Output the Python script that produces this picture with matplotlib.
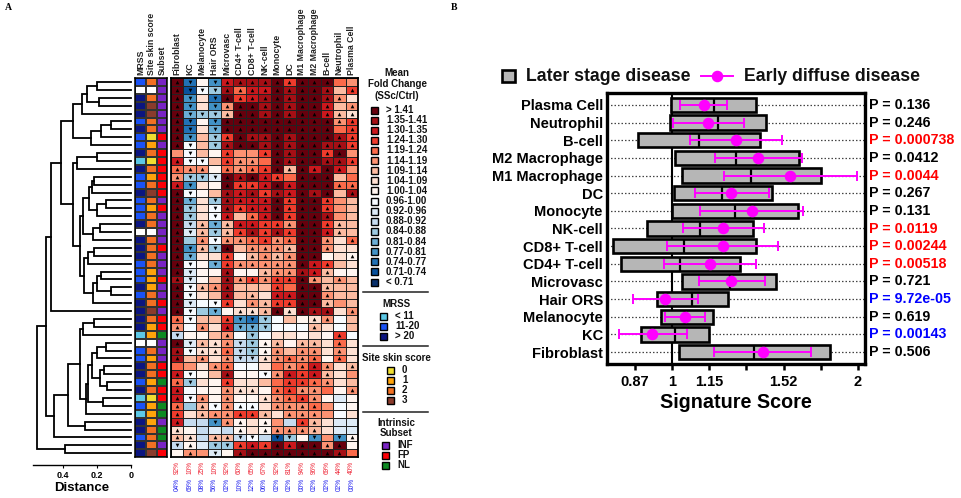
import matplotlib
matplotlib.use('Agg')
import matplotlib.pyplot as plt
from matplotlib.colors import ListedColormap
from matplotlib.patches import Rectangle
from matplotlib.lines import Line2D
import numpy as np

plt.rcParams['font.family'] = ['Liberation Sans', 'DejaVu Sans']

W, H = 961, 498

# panel A
cell_types = ['Fibroblast', 'KC', 'Melanocyte', 'Hair ORS', 'Microvasc', 'CD4+ T-cell', 'CD8+ T-cell',
              'NK-cell', 'Monocyte', 'DC', 'M1 Macrophage', 'M2 Macrophage', 'B-cell', 'Neutrophil', 'Plasma Cell']
fold_labels = ['> 1.41', '1.35-1.41', '1.30-1.35', '1.24-1.30', '1.19-1.24', '1.14-1.19', '1.09-1.14', '1.04-1.09',
               '1.00-1.04', '0.96-1.00', '0.92-0.96', '0.88-0.92', '0.84-0.88', '0.81-0.84', '0.77-0.81',
               '0.74-0.77', '0.71-0.74', '< 0.71']
fold_colors = ['#67000d', '#a50f15', '#cb181d', '#ef3b2c', '#fb6a4a', '#fc9272', '#fcbba1', '#fee0d2', '#fff5f0',
               '#f7fbff', '#deebf7', '#c6dbef', '#9ecae1', '#6baed6', '#4292c6', '#2171b5', '#08519c', '#08306b']

# one char per column, base 36 index into fold_labels
fold_rows = [
    '0f8e21110300045', '0g9c14220100163', '0e7f03210100157', '0e7e50010100265', '0dcc60010100267',
    '0f8e00000000053', '0f7d00000000043', '0e6c30110100013', '096c10010100113', '596835530100305',
    '299635540100113', '455845430602025', '5cca01023400064', '2e7803320200044', '098612131201061',
    '0d7c12220300356', '0c7913220300356', '0c7926420300156', '0b6d62233500366', '0a6c63131300266',
    '0c5955435400574', '0e6c06555600577', '0d7738656500878', '098d35555502367', '0a8818865512688',
    '1a8615353305656', '096516663400666', '097616672200566', '0a9937563300656', '09cd87760701175',
    '49663efc9687596', '59572ddc9996796', 'b88659c97787839', '0a675bc86866747', '19774bc85655757',
    '16575bb75454847', '457549974542576', '298618895232675', '4c7837764334576', '298857784355485',
    '2958588754358a8', '4c6959975554598', '376553367555597', '2bbe58785b367aa', '78bab87855567aa',
    '67b66b9bgc8e5e8', 'b8acc3230200508', '855a81000000014']
mark_rows = [
    '^v.v^^^^^^^^^..', '^vvv^^^^^^^^^.^', '^v.v^^^^^^^^^^.', '^v.v^^^^^^^^^.^', '^vvv^^^^^^^^^^^',
    '^v.v^^^^^^^^^^^', '^v.v^^^^^^^^^.^', '^v.v^^^^^^^^^^^', '^v.v^^^^^^^^^^^', '.v..^..^^^^^^^.',
    '^vv.^^^.^^^^^^^', '^^^.^^^^^^^^^^.', '^vvv^^^^^.^^^..', '^v..^^^^^^^^^^^', '^v..^^^^^^^^^.^',
    '^v.v^^^^^^^^^..', '^v.v^^^^^^^^^..', '^v.v^.^^^^^^^..', '^v^v^^^^^^^^^^.', '^v^v^^^^^^^^^^.',
    '^.^v^^^^^^^^^.^', '^v^v^.^^^^^^^..', '^v..^.^^^^^^..^', '^v.v^^^^^^^^^..', '^v..^..^^^^^^..',
    '^v..^^^^^^^^.^.', '^v^^^...^.^^^..', '^v..^.^.^^^^^..', '^v.v^.^^^^^^^..', '^v.v.^^^^^^^^.^',
    '^v..^vvv...^^..', '^.^.^vvv...^...', 'v...^.v......^.', '^v^^^vv^^.^^.^.', '^v^^^vv^^.^^.^.',
    '^.^.^vv^^^^^.^.', '...^^....^^^^.^', '^v..^..v^^^^^..', '^v..^....^^^^..', '^...^^^.^^^^..^',
    '^v^.^..^^^^^...', '^.^v^^^.^^^^...', '^.^^^^^^.^^^...', '^..v^^.^..^^...', '^....^.^^^^^...',
    '^^.^^vv.vv.v.v^', 'v^.vv^^^^^^^^^.', '.^.v.^^^^^^^^^.']

mrss_names = ['< 11', '11-20', '> 20']
mrss_colors = ['#5cc8e6', '#1a52f5', '#0b1580']
site_names = ['0', '1', '2', '3']
site_colors = ['#f0de30', '#ffa30a', '#f27022', '#8a3b2c']
subset_names = ['INF', 'FP', 'NL']
subset_colors = ['#7a24c4', '#fb0007', '#0d8a22']
# w = not scored
mrss_col = ['b','w','n','n','n','b','n','b','b','n','c','n','b','b','n','b','b','b','n','w','n','n','n','b',
            'b','b','n','b','n','n','n','n','c','w','b','b','n','n','b','n','c','b','c','n','n','b','n','n']
site_col = ['2','w','2','3','3','2','2','0','1','2','0','2','1','2','3','2','1','2','2','w','2','2','2','2',
            '1','1','1','2','2','3','2','1','1','w','2','1','2','2','1','2','0','1','1','1','2','2','2','3']
subset_col = ['I','I','I','I','I','I','I','F','I','F','F','F','F','F','F','I','F','I','I','I','I','F','I','I',
              'I','F','I','I','F','I','F','F','N','I','I','I','F','F','N','F','F','N','N','I','N','N','I','F']

red_pct = ['92%', '10%', '25%', '10%', '92%', '60%', '65%', '67%', '92%', '81%', '94%', '96%', '69%', '44%', '40%']
blue_pct = ['04%', '69%', '08%', '56%', '02%', '10%', '12%', '06%', '02%', '02%', '00%', '02%', '02%', '02%', '00%']

# dendrogram: (distance, child, child), ints are row numbers
dendro = (0.55,
  (0.50,
    (0.47,
      (0.41,
        (0.34,
          (0.29, (0.26, (0.20, 0, 1), (0.19, 2, 3)), 4),
          (0.235, (0.175, (0.115, 5, 6), 7), 8)),
        (0.34,
          (0.32, (0.20, 9, 10), 11),
          (0.30,
            (0.28,
              (0.245, (0.23, (0.215, 12, 13), 14), (0.20, (0.145, 15, 16), 17)),
              (0.225, (0.18, 18, 19), 20)),
            (0.275,
              (0.25, (0.22, 21, 22), 23),
              (0.225, (0.20, (0.178, 24, 25), (0.115, 26, 27)), 28))))),
      29),
    (0.45,
      (0.37,
        (0.30,
          (0.28, (0.215, 30, 31), 32),
          (0.265,
            (0.255,
              (0.23, (0.20, (0.145, 33, 34), 35), (0.185, (0.16, 36, 37), (0.14, 38, 39))),
              (0.165, 40, 41)),
            42)),
        (0.27, 43, 44)),
      45)),
  (0.39, 46, 47))

# panel B, log2 of signature score
sig_names = ['Plasma Cell', 'Neutrophil', 'B-cell', 'M2 Macrophage', 'M1 Macrophage', 'DC', 'Monocyte', 'NK-cell',
             'CD8+ T-cell', 'CD4+ T-cell', 'Microvasc', 'Hair ORS', 'Melanocyte', 'KC', 'Fibroblast']
box_lo = [-0.004, -0.009, -0.183, 0.016, 0.052, 0.009, 0.002, -0.134, -0.319, -0.274, 0.052, -0.079, -0.059, -0.168, 0.038]
box_hi = [0.452, 0.504, 0.471, 0.683, 0.801, 0.536, 0.677, 0.435, 0.450, 0.364, 0.559, 0.299, 0.222, 0.199, 0.849]
box_med = [0.225, 0.247, 0.145, 0.346, 0.425, 0.269, 0.341, 0.151, 0.063, 0.045, 0.31, 0.109, 0.07, 0.014, 0.443]
early_pt = [0.170, 0.194, 0.344, 0.462, 0.634, 0.319, 0.430, 0.276, 0.274, 0.203, 0.319, -0.036, 0.070, -0.106, 0.487]
early_lo = [0.041, 0.004, 0.095, 0.231, 0.278, 0.124, 0.152, 0.061, -0.025, -0.043, 0.145, -0.210, -0.036, -0.287, 0.226]
early_hi = [0.297, 0.389, 0.591, 0.699, 0.995, 0.522, 0.704, 0.493, 0.572, 0.450, 0.498, 0.142, 0.176, 0.082, 0.747]
p_text = ['0.136', '0.246', '0.000738', '0.0412', '0.0044', '0.267', '0.131', '0.0119', '0.00244', '0.00518', '0.721',
          '9.72e-05', '0.619', '0.00143', '0.506']
p_color = ['k', 'k', 'r', 'k', 'r', 'k', 'k', 'r', 'r', 'r', 'k', 'b', 'k', 'b', 'k']
x_ticks = [-0.2, 0, 0.2, 0.4, 0.6, 0.8, 1.0]
x_labels = ['0.87', '1', '1.15', '', '1.52', '', '2']

fig = plt.figure(figsize=(W / 100, H / 100), dpi=100)


def px_axes(x0, y0, x1, y1, **kw):
    return fig.add_axes([x0 / W, 1 - y1 / H, (x1 - x0) / W, (y1 - y0) / H], **kw)


n_rows = len(fold_rows)
n_cols = len(cell_types)
row_h = 7.9
top = 78
bottom = top + n_rows * row_h

# heatmap
ax = px_axes(171, top, 358, bottom)
levels = np.array([[int(c, 36) for c in r] for r in fold_rows])
ax.pcolormesh(levels, cmap=ListedColormap(fold_colors), vmin=-0.5, vmax=17.5, edgecolors='#222222', linewidth=0.7)
for mk, glyph in (('^', '^'), ('v', 'v')):
    pts = [(j + 0.5, i + 0.5) for i, r in enumerate(mark_rows) for j, c in enumerate(r) if c == mk]
    ax.scatter(*zip(*pts), marker=glyph, s=7, color='k', linewidths=0, zorder=3)
ax.set_xlim(0, n_cols)
ax.set_ylim(n_rows, 0)
ax.set_yticks([])
ax.set_xticks(np.arange(n_cols) + 0.5)
ax.set_xticklabels(cell_types, rotation=90, fontsize=6.3, fontweight='bold', color='#222222')
ax.tick_params(axis='x', length=0, top=True, bottom=False, labeltop=True, labelbottom=False, pad=2)
for s in ax.spines.values():
    s.set_linewidth(1.3)

# side bars
ax = px_axes(135, top, 167.5, bottom)
side_colors = ['#ffffff'] + mrss_colors + site_colors + subset_colors
lookup = {'w': 0, 'c': 1, 'b': 2, 'n': 3}
site_lookup = {'w': 0, '0': 4, '1': 5, '2': 6, '3': 7}
subset_lookup = {'I': 8, 'F': 9, 'N': 10}
side = np.array([[lookup[a], site_lookup[b], subset_lookup[c]] for a, b, c in zip(mrss_col, site_col, subset_col)])
ax.pcolormesh(side, cmap=ListedColormap(side_colors), vmin=-0.5, vmax=10.5, edgecolors='#333333', linewidth=0.3)
ax.set_xlim(0, 3)
ax.set_ylim(n_rows, 0)
ax.set_yticks([])
ax.set_xticks([0.5, 1.5, 2.5])
ax.set_xticklabels(['MRSS', 'Site skin score', 'Subset'], rotation=90, fontsize=6.3, fontweight='bold', color='#222222')
ax.tick_params(axis='x', length=0, top=True, bottom=False, labeltop=True, labelbottom=False, pad=2)
for s in ax.spines.values():
    s.set_linewidth(1.1)

# dendrogram
ax = px_axes(33, top, 131, 465)
ax.set_xlim(0.576, 0)
ax.set_ylim((465 - top) / row_h, 0)


def draw_node(node):
    if isinstance(node, int):
        return 0.0, node + 0.5
    d, left, right = node
    d1, y1 = draw_node(left)
    d2, y2 = draw_node(right)
    ax.plot([d1, d, d, d2], [y1, y1, y2, y2], color='k', lw=1.3, solid_joinstyle='miter', clip_on=False)
    return d, (y1 + y2) / 2


root_d, root_y = draw_node(dendro)
for s in ['top', 'left', 'right']:
    ax.spines[s].set_visible(False)
ax.spines['bottom'].set_linewidth(1.0)
ax.set_yticks([])
ax.set_xticks([0.4, 0.2, 0])
ax.set_xticklabels(['0.4', '0.2', '0'], fontsize=6.5, fontweight='bold')
ax.tick_params(axis='x', length=2.5, width=0.8, pad=2)
ax.set_xlabel('Distance', fontsize=9.5, fontweight='bold', labelpad=1)

# panel B
ax = px_axes(607, 93, 865, 364)
y = np.arange(len(sig_names))
ax.set_xlim(-0.349, 1.038)
ax.set_ylim(14.67, -0.67)
ax.hlines(y, -0.349, 1.038, color='#444444', lw=0.9, linestyles=(0, (1.2, 1.6)), zorder=1)
ax.axvline(0, color='k', lw=1.5, zorder=1)
ax.barh(y, np.array(box_hi) - np.array(box_lo), left=box_lo, height=0.82, color='#b6b6b6', edgecolor='k', linewidth=1.9, zorder=2)
ax.vlines(box_med, y - 0.41, y + 0.41, color='k', lw=1.6, zorder=3)
ax.errorbar(early_pt, y, xerr=[np.array(early_pt) - np.array(early_lo), np.array(early_hi) - np.array(early_pt)],
            fmt='o', color='#ff00ff', ms=7.3, elinewidth=1.4, capsize=3.3, capthick=1.4, zorder=4)
ax.set_yticks(y)
ax.set_yticklabels(sig_names, fontsize=10.5, fontweight='bold')
ax.set_xticks(x_ticks)
ax.set_xticklabels(x_labels, fontsize=10.5, fontweight='bold')
ax.tick_params(axis='y', length=0, pad=3)
ax.tick_params(axis='x', length=4, width=1.8, pad=4)
ax.set_xlabel('Signature Score', fontsize=14.2, fontweight='bold', labelpad=3)
for s in ax.spines.values():
    s.set_linewidth(2.4)
for i, (t, c) in enumerate(zip(p_text, p_color)):
    ax.annotate('P = ' + t, xy=(1, i), xycoords=ax.get_yaxis_transform(), xytext=(3, 0), textcoords='offset points',
                va='center', ha='left', fontsize=10.3, fontweight='bold', color=c, annotation_clip=False)

# overlay in pixels for legends and loose text
ov = px_axes(0, 0, W, H)
ov.set_xlim(0, W)
ov.set_ylim(H, 0)
ov.axis('off')
ov.patch.set_alpha(0)


def swatch(xc, yc, color, size=7.0):
    ov.add_patch(Rectangle((xc - size / 2, yc - size / 2), size, size, facecolor=color, edgecolor='k', linewidth=1.0))


def label(x, y, s, ha='left', size=7):
    ov.text(x, y, s, ha=ha, va='center', fontsize=size, fontweight='bold', color='#111111')


ov.text(8, 7, 'A', family='Liberation Serif', fontsize=7, fontweight='bold', ha='center', va='center')
ov.text(454, 7, 'B', family='Liberation Serif', fontsize=7, fontweight='bold', ha='center', va='center')

for i, (r, b) in enumerate(zip(red_pct, blue_pct)):
    xc = 171 + (i + 0.5) * 187 / n_cols
    ov.text(xc, 467.5, r, rotation=90, ha='center', va='center', fontsize=4.7, color='#ee2233')
    ov.text(xc, 484, b, rotation=90, ha='center', va='center', fontsize=4.7, color='#2222ee')

label(397, 73, 'Mean', ha='center')
label(397, 84, 'Fold Change', ha='center')
label(397, 96, '(SSc/Ctrl)', ha='center')
for i, (name, col) in enumerate(zip(fold_labels, fold_colors)):
    yc = 110 + i * 10.12
    swatch(374, yc, col)
    label(386, yc, name)

for yl in (292, 346, 412):
    ov.plot([363, 428], [yl, yl], color='#222222', lw=1.1)
label(396, 304, 'MRSS', ha='center')
for i, (name, col) in enumerate(zip(mrss_names, mrss_colors)):
    swatch(383, 316 + i * 10, col)
    label(395, 316 + i * 10, name)
label(396, 358, 'Site skin score', ha='center')
for i, (name, col) in enumerate(zip(site_names, site_colors)):
    swatch(390, 370 + i * 10, col)
    label(402, 370 + i * 10, name)
label(396, 423, 'Intrinsic', ha='center')
label(396, 433, 'Subset', ha='center')
for i, (name, col) in enumerate(zip(subset_names, subset_colors)):
    swatch(385, 445 + i * 10, col)
    label(397, 445 + i * 10, name)

# panel B legend
ov.add_patch(Rectangle((501.5, 70), 13.5, 12, facecolor='#b6b6b6', edgecolor='k', linewidth=1.9))
ov.text(526, 76, 'Later stage disease', fontsize=12.7, fontweight='bold', va='center', color='#111111')
ov.add_line(Line2D([701, 733], [76, 76], color='#ff00ff', lw=1.4))
ov.plot([717], [76], 'o', color='#ff00ff', ms=7.3)
ov.text(744, 76, 'Early diffuse disease', fontsize=12.7, fontweight='bold', va='center', color='#111111')
ov.set_xlim(0, W)
ov.set_ylim(H, 0)

fig.savefig('out.png', dpi=100)
